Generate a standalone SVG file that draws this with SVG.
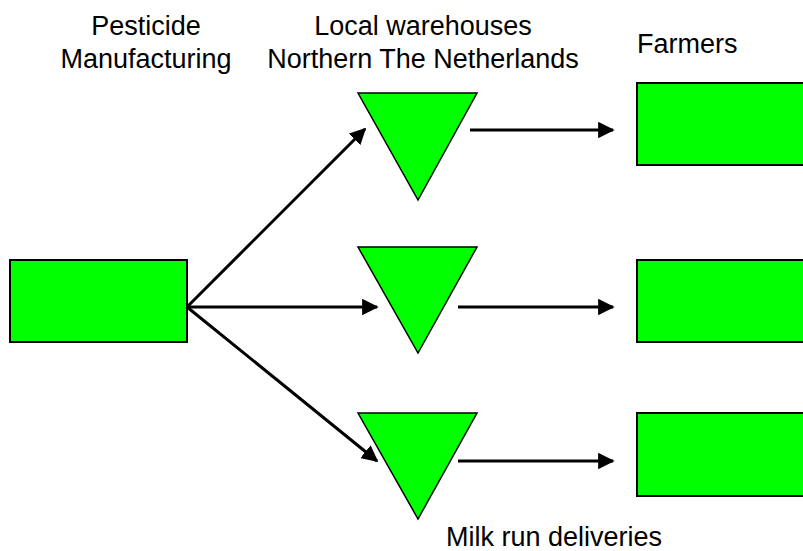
<svg xmlns="http://www.w3.org/2000/svg" width="803" height="551" viewBox="0 0 803 551">
<style>
.box{fill:#00ff00;stroke:#000;stroke-width:2}
.tri{fill:#00ff00;stroke:#000;stroke-width:1.5;stroke-linejoin:miter}
.lbl{font-family:"Liberation Sans",Arial,sans-serif;font-size:27px;fill:#000}
.con{stroke:#000;stroke-width:3;fill:none;marker-end:url(#ah)}
</style>
<defs>
<marker id="ah" viewBox="0 0 10 10" refX="9" refY="5" markerWidth="5.5" markerHeight="5.5" orient="auto" markerUnits="strokeWidth">
<path d="M0,0 L10,5 L0,10 Z" fill="#000"/>
</marker>
</defs>
<rect width="803" height="551" fill="#fff"/>
<g id="labels">
<text class="lbl" x="146" y="35" text-anchor="middle">Pesticide</text>
<text class="lbl" x="146" y="68" text-anchor="middle">Manufacturing</text>
<text class="lbl" x="423" y="35" text-anchor="middle">Local warehouses</text>
<text class="lbl" x="423" y="68" text-anchor="middle">Northern The Netherlands</text>
<text class="lbl" x="637" y="53">Farmers</text>
<text class="lbl" x="554" y="546" text-anchor="middle">Milk run deliveries</text>
</g>
<g id="manufacturer"><rect class="box" x="10" y="260" width="177" height="82"/></g>
<g id="warehouse1"><polygon class="tri" points="358,93 477,93 418,200"/></g>
<g id="warehouse2"><polygon class="tri" points="358,247 477,247 418,353"/></g>
<g id="warehouse3"><polygon class="tri" points="358,413 477,413 418,519"/></g>
<g id="farmer1"><rect class="box" x="637" y="83" width="170" height="82"/></g>
<g id="farmer2"><rect class="box" x="637" y="260" width="170" height="82"/></g>
<g id="farmer3"><rect class="box" x="637" y="413" width="170" height="83"/></g>
<g id="connectors">
<line class="con" x1="187" y1="307" x2="365" y2="129"/>
<line class="con" x1="187" y1="307" x2="377" y2="307"/>
<line class="con" x1="187" y1="307" x2="377" y2="461"/>
<line class="con" x1="470" y1="130" x2="613" y2="130"/>
<line class="con" x1="458" y1="307" x2="613" y2="307"/>
<line class="con" x1="458" y1="461" x2="613" y2="461"/>
</g>
</svg>
